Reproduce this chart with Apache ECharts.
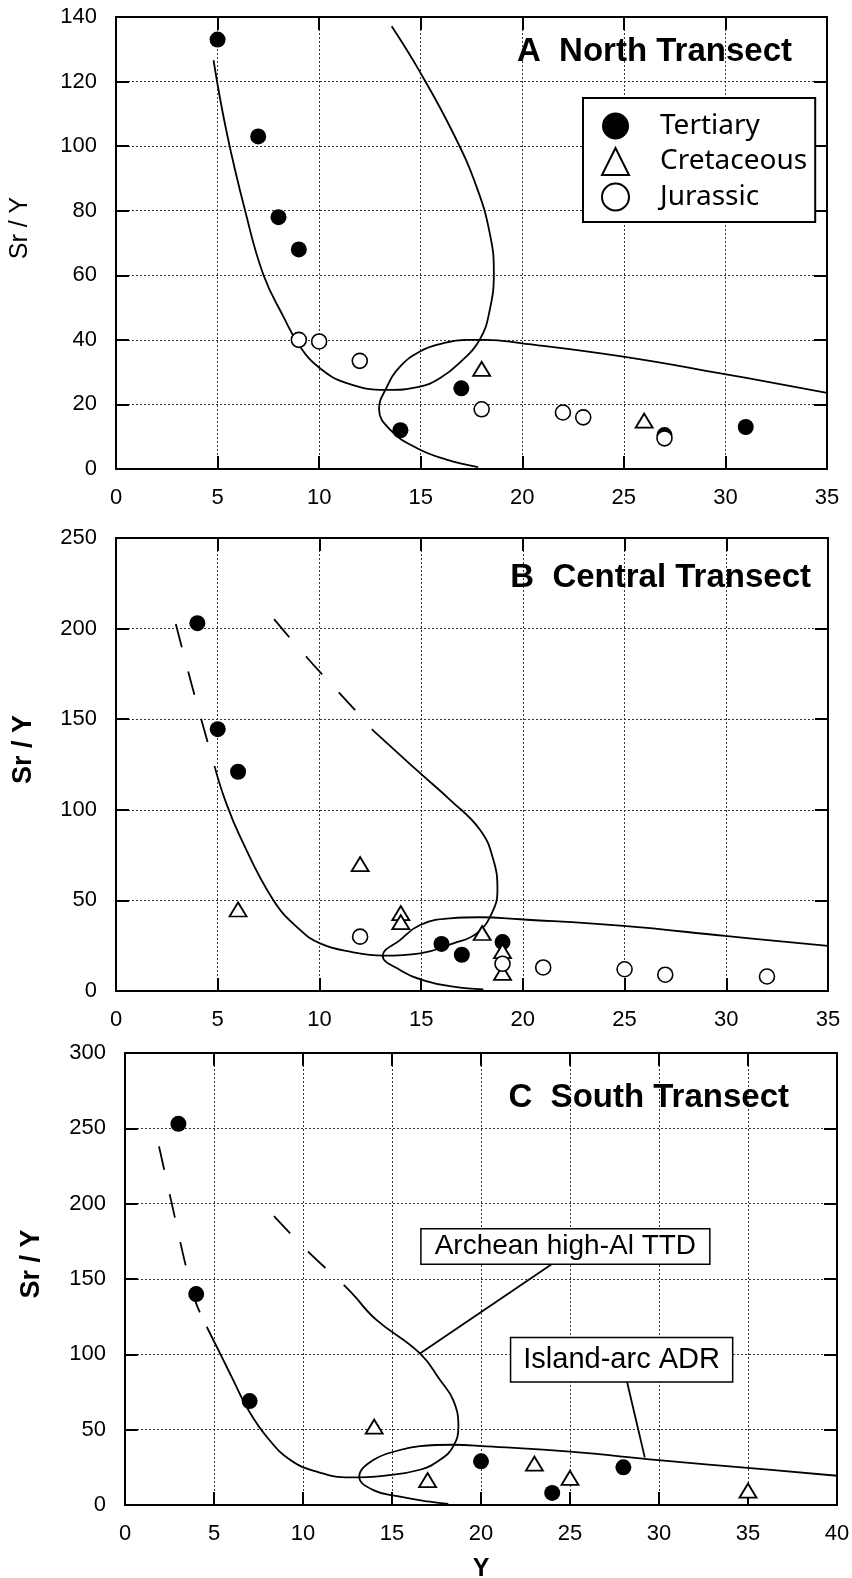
<!DOCTYPE html>
<html><head><meta charset="utf-8">
<script src="https://cdn.jsdelivr.net/npm/echarts@6.0.0/dist/echarts.min.js"></script>
<style>html,body{margin:0;padding:0;background:#fff}#c{width:852px;height:1578px}</style>
</head><body><div id="c"></div>
<script>
// ---------- data ----------
const seriesNames = ['Tertiary', 'Cretaceous', 'Jurassic'];
const panelTitles = ['A  North Transect', 'B  Central Transect', 'C  South Transect'];
const yAxisTitle = 'Sr / Y';
const xAxisTitle = 'Y';
const xMaxes = [35, 35, 40];
const yMaxes = [140, 250, 300];
const yIntervals = [20, 50, 50];
const xInterval = 5;

// Panel A (North)
const aTertiary = [[5,133],[7,103],[8,78],[9,68],[14,12],[17,25],[27,10.5],[31,13]];
const aCretaceous = [[18,31],[26,15]];
const aJurassic = [[9,40],[10,39.5],[12,33.5],[18,18.5],[22,17.5],[23,16],[27,9.5]];
const aTTD = [[13.57,137.1],[14.96,123],[16.6,104],[17.75,87.4],[18.4,73],[18.6,61],[18.4,49.3],[17.9,40],[16.9,32.8],[15.94,28.1],[14.96,25.5],[13.3,24.5],[11.36,26.6],[10.04,31.2],[9.06,37.9],[8.24,47.2],[7.26,60.1],[6.36,79.9],[5.46,103.9],[4.8,126.6]];
const aADR = [[17.83,0.6],[16.27,2.9],[14.8,6.5],[13.49,12.2],[12.95,18.6],[13.3,25],[13.98,31.7],[14.96,36.4],[15.94,38.7],[17.26,40],[18.24,40],[19.9,39],[24.96,34.8],[29.96,29.4],[35,23.6]];

// Panel B (Central)
const bTertiary = [[4,203],[5,144.5],[6,121],[16,26],[17,20],[19,27]];
const bCretaceous = [[6,45],[12,70],[14,43],[14,38],[18,32],[19,22],[19,10]];
const bJurassic = [[12,30],[19,15],[21,13],[25,12],[27,9],[32,8]];
const bTTDdashLeft = [[2.94,202.5],[3.88,162.5],[4.87,123]];
const bTTD = [[4.87,123],[5.36,105.5],[6.1,85.2],[7.73,50.2],[9.05,33.7],[10.03,26.3],[11.5,21.7],[13.14,19.5],[14.95,20.8],[16.58,26.3],[17.73,31.8],[18.47,42.9],[18.75,55.8],[18.55,72.4],[17.9,88.9],[16.42,105.5],[14.95,120.2],[12.62,144]];
const bTTDdashRight = [[7.77,205.2],[9.34,184.6],[11.8,154.4],[12.62,144]];
const bADR = [[18.06,0.9],[16.58,2.4],[15.2,5.6],[13.96,11.6],[13.11,19.5],[13.96,28.1],[14.95,36.4],[16.42,40.1],[17.9,40.7],[19.86,39.6],[24.94,35.9],[29.94,30.4],[35,24.9]];

// Panel C (South)
const cTertiary = [[3,253],[4,140],[7,69],[20,29],[24,8],[28,25]];
const cCretaceous = [[14,52],[17,16.5],[23,27.5],[25,18],[35,9.5]];
const cJurassic = [];
const cTTDdashLeft = [[1.91,238],[2.81,190.4],[3.43,158],[3.93,136],[4.59,118.3]];
const cTTD = [[4.59,118.3],[5.34,100.6],[6.08,82.9],[6.93,63],[7.96,45.3],[9.27,30],[10.77,22.1],[12.64,18.3],[14.51,19.4],[16.57,23.4],[17.7,30],[18.44,38.9],[18.73,51.9],[18.44,69.6],[17.7,82.9],[16.57,100.6],[14.14,122.7],[13.1,136]];
const cTTDdashRight = [[8.37,191.7],[10.3,168],[12.36,145.3],[13.1,136]];
const cADR = [[18.16,0.7],[17.13,2.2],[15.45,5.5],[13.95,9.9],[13.16,18.8],[13.95,29.8],[15.45,36.5],[16.57,39.1],[18.44,40],[20.32,38.9],[25,35.4],[29.96,29.8],[35.3,24.3],[40,19.4]];
const annotTexts = ['Archean high-Al TTD', 'Island-arc ADR'];
const annotAnchors = [[24.74,171.6],[27.9,96.4]];
const leaderTTD = [[16.57,100.6],[23.99,160]];
const leaderADR = [[29.2,31.6],[28.2,82]];

// ---------- chart ----------
const FONT = 'Liberation Sans';
const grids = [
  {left:116, top:17, width:711, height:452, outerBoundsMode:'none', containLabel:false},
  {left:116, top:538, width:712, height:453, outerBoundsMode:'none', containLabel:false},
  {left:125, top:1053, width:712, height:452, outerBoundsMode:'none', containLabel:false}
];
const titlePos = [{right:60, top:35},{right:41, top:561},{right:63, top:1081}];
const yNameCfg = [
  {gap:83, size:25, weight:'normal'},
  {gap:79, size:27, weight:'bold'},
  {gap:80, size:27, weight:'bold'}
];

const xAxes = [], yAxes = [], series = [], titles = [];
const axisLineStyle = {color:'#000', width:2};
const tickCfg = {show:true, inside:true, length:13, lineStyle:{color:'#000', width:2}};
const splitCfg = {show:true, lineStyle:{color:'#333', width:1, type:[2,2]}};

grids.forEach((g, p) => {
  xAxes.push({
    type:'value', gridIndex:p, position:'bottom', min:0, max:xMaxes[p], interval:xInterval,
    axisLine:{show:true, onZero:false, lineStyle:axisLineStyle}, axisTick:tickCfg,
    axisLabel:{color:'#000', fontFamily:FONT, fontSize:22, margin:18},
    splitLine:splitCfg,
    name: p === 2 ? xAxisTitle : '', nameLocation:'middle', nameGap:52,
    nameTextStyle:{color:'#000', fontFamily:FONT, fontSize:25, fontWeight:'bold'}
  });
  xAxes.push({
    type:'value', gridIndex:p, position:'top', min:0, max:xMaxes[p], interval:xInterval,
    axisLine:{show:true, onZero:false, lineStyle:axisLineStyle}, axisTick:tickCfg,
    axisLabel:{show:false}, splitLine:{show:false}
  });
  yAxes.push({
    type:'value', gridIndex:p, position:'left', min:0, max:yMaxes[p], interval:yIntervals[p],
    axisLine:{show:true, onZero:false, lineStyle:axisLineStyle}, axisTick:tickCfg,
    axisLabel:{color:'#000', fontFamily:FONT, fontSize:22, margin:19},
    splitLine:splitCfg,
    name: yAxisTitle, nameLocation:'middle', nameGap:yNameCfg[p].gap,
    nameTextStyle:{color:'#000', fontFamily:FONT, fontSize:yNameCfg[p].size, fontWeight:yNameCfg[p].weight, padding:[0,0,0,30]}
  });
  yAxes.push({
    type:'value', gridIndex:p, position:'right', min:0, max:yMaxes[p], interval:yIntervals[p],
    axisLine:{show:true, onZero:false, lineStyle:axisLineStyle}, axisTick:tickCfg,
    axisLabel:{show:false}, splitLine:{show:false}
  });
  titles.push({
    text: panelTitles[p], right:titlePos[p].right, top:titlePos[p].top, padding:0,
    textStyle:{fontFamily:FONT, fontSize:33, fontWeight:'bold', color:'#000'}
  });
});

function curve(p, data, dashed, smooth) {
  series.push({
    type:'line', xAxisIndex:2*p, yAxisIndex:2*p, data:data, showSymbol:false, symbol:'none',
    smooth: smooth === undefined ? 0.45 : smooth, silent:true, z:2,
    lineStyle:{color:'#000', width:1.8, opacity:1, type: dashed ? [24,25] : 'solid'}
  });
}
function points(p, name, data) {
  const st = {
    Tertiary:{symbol:'circle', symbolSize:16, itemStyle:{color:'#000', borderColor:'#000', borderWidth:0, opacity:1}},
    Cretaceous:{symbol:'triangle', symbolSize:[17,14], itemStyle:{color:'#fff', borderColor:'#000', borderWidth:1.8, opacity:1}},
    Jurassic:{symbol:'circle', symbolSize:15, itemStyle:{color:'#fff', borderColor:'#000', borderWidth:1.6, opacity:1}}
  }[name];
  series.push(Object.assign({
    type:'scatter', name:name, xAxisIndex:2*p, yAxisIndex:2*p, data:data, z:5, silent:true
  }, st));
}

// Panel A
curve(0, aTTD); curve(0, aADR);
points(0, 'Tertiary', aTertiary); points(0, 'Cretaceous', aCretaceous); points(0, 'Jurassic', aJurassic);
// Panel B
curve(1, bTTDdashLeft, true); curve(1, bTTD); curve(1, bTTDdashRight, true); curve(1, bADR);
points(1, 'Tertiary', bTertiary); points(1, 'Cretaceous', bCretaceous); points(1, 'Jurassic', bJurassic);
// Panel C
curve(2, cTTDdashLeft, true); curve(2, cTTD); curve(2, cTTDdashRight, true); curve(2, cADR);
curve(2, leaderTTD, false, false); curve(2, leaderADR, false, false);
points(2, 'Tertiary', cTertiary); points(2, 'Cretaceous', cCretaceous); points(2, 'Jurassic', cJurassic);
const annotStyle = [
  {fontSize:28, padding:[3,13,3,13]},
  {fontSize:29, padding:[7,12,7,12]}
];
annotTexts.forEach((t, i) => {
  series.push({
    type:'scatter', xAxisIndex:4, yAxisIndex:4, symbolSize:0, silent:true, z:10,
    itemStyle:{opacity:1},
    data:[{value:annotAnchors[i], name:t}],
    label:{show:true, position:'inside', formatter:'{b}', color:'#000', opacity:1, fontFamily:FONT,
      fontSize:annotStyle[i].fontSize, lineHeight:annotStyle[i].fontSize,
      backgroundColor:'#fff', borderColor:'#000', borderWidth:1.5, padding:annotStyle[i].padding}
  });
});

const option = {
  backgroundColor:'#fff',
  animation:false,
  title:titles,
  grid:grids,
  xAxis:xAxes,
  yAxis:yAxes,
  legend:{
    data:seriesNames, orient:'vertical', left:583, top:98, selectedMode:false,
    backgroundColor:'#fff', borderColor:'#000', borderWidth:2, borderRadius:0,
    padding:[13,8,10,18], itemGap:5.5, itemWidth:27, itemHeight:27,
    itemStyle:{opacity:1},
    textStyle:{fontFamily:'Noto Sans', fontSize:28, lineHeight:30, color:'#000', padding:[0,0,0,26]}
  },
  series:series
};
const chart = echarts.init(document.getElementById('c'), null, {renderer:'canvas'});
chart.setOption(option);
</script>
</body></html>
